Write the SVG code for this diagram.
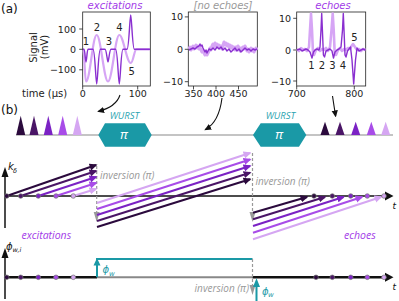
<svg xmlns="http://www.w3.org/2000/svg" width="399" height="301" viewBox="0 0 399 301">
<style>
.tick{font-family:"DejaVu Sans",sans-serif;font-size:9.5px;fill:#222}
.lab{font-family:"DejaVu Sans",sans-serif;font-size:10px;fill:#222}
.num{font-family:"DejaVu Sans",sans-serif;font-size:10px;fill:#222;text-anchor:middle}
.ttl{font-family:"DejaVu Sans",sans-serif;font-size:10px;font-style:italic;text-anchor:middle}
.pl{font-family:"DejaVu Sans",sans-serif;font-size:12px;fill:#111}
.frame{fill:none;stroke:#222;stroke-width:0.8}
.tk{stroke:#222;stroke-width:0.8}
.it{font-family:"Open Sans",sans-serif;font-style:italic}
.math{font-family:"DejaVu Sans",sans-serif;font-style:italic}
.pur{fill:#a23ae8}
.teal{fill:#1a99a6}
.light{fill:none;stroke:#d6a5f5;stroke-width:2.2;stroke-linejoin:round}
.dark{fill:none;stroke:#8a2fd0;stroke-width:1.4;stroke-linejoin:round}
.inv{fill:#999}
.dash{stroke:#999;stroke-width:1.2;stroke-dasharray:3,2;fill:none}
.traj{fill:none;stroke-width:2}
.dot{stroke:#777;stroke-width:0.7}
.c1{stroke:#2b0a3d}.c2{stroke:#4a1566}.c3{stroke:#7b22c4}.c4{stroke:#a84ce8}.c5{stroke:#d5a6f2}
.f1{fill:#2b0a3d}.f2{fill:#4a1566}.f3{fill:#7b22c4}.f4{fill:#a84ce8}.f5{fill:#d5a6f2}
</style>
<defs>
<marker id="h1" viewBox="0 0 10 10" refX="8" refY="5" markerWidth="8" markerHeight="8" markerUnits="userSpaceOnUse" orient="auto"><path d="M0,0.5 L10,5 L0,9.5 z" fill="#2b0a3d"/></marker>
<marker id="h2" viewBox="0 0 10 10" refX="8" refY="5" markerWidth="8" markerHeight="8" markerUnits="userSpaceOnUse" orient="auto"><path d="M0,0.5 L10,5 L0,9.5 z" fill="#4a1566"/></marker>
<marker id="h3" viewBox="0 0 10 10" refX="8" refY="5" markerWidth="8" markerHeight="8" markerUnits="userSpaceOnUse" orient="auto"><path d="M0,0.5 L10,5 L0,9.5 z" fill="#7b22c4"/></marker>
<marker id="h4" viewBox="0 0 10 10" refX="8" refY="5" markerWidth="8" markerHeight="8" markerUnits="userSpaceOnUse" orient="auto"><path d="M0,0.5 L10,5 L0,9.5 z" fill="#a84ce8"/></marker>
<marker id="h5" viewBox="0 0 10 10" refX="8" refY="5" markerWidth="8" markerHeight="8" markerUnits="userSpaceOnUse" orient="auto"><path d="M0,0.5 L10,5 L0,9.5 z" fill="#d5a6f2"/></marker>
<marker id="hb" viewBox="0 0 10 10" refX="8" refY="5" markerWidth="7" markerHeight="7" markerUnits="userSpaceOnUse" orient="auto"><path d="M0,0.5 L10,5 L0,9.5 z" fill="#111"/></marker>
</defs>
<rect width="399" height="301" fill="#fff"/>

<text class="pl" x="1" y="12.5">(a)</text>
<text class="pl" x="1" y="114">(b)</text>

<!-- Plot 1: excitations -->
<g id="plot-excitations">
<text class="ttl pur" x="115" y="9">excitations</text>
<rect class="frame" x="82.7" y="12" width="67.6" height="74"/>
<path class="tk" d="M82.7,29 h-3.5 M82.7,49.3 h-3.5 M82.7,69.8 h-3.5 M82.7,86 v3.5 M137.7,86 v3.5"/>
<text class="tick" x="76" y="32.5" text-anchor="end">100</text>
<text class="tick" x="76" y="52.8" text-anchor="end">0</text>
<text class="tick" x="76" y="73.3" text-anchor="end">−100</text>
<text class="tick" x="82.7" y="97" text-anchor="middle">0</text>
<text class="tick" x="137.7" y="97" text-anchor="middle">100</text>
<text class="lab" x="22" y="96.5">time (μs)</text>
<text class="lab" transform="translate(37,47.5) rotate(-90)" text-anchor="middle">Signal</text>
<text class="lab" transform="translate(48,47) rotate(-90)" text-anchor="middle">(mV)</text>
<path class="light" d="M83,49.3 C84.5,49.3 84.8,81.5 86,81.5 C90,81.5 92.7,35 96.7,35 C100.7,35 104,81.5 108,81.5 C112,81.5 115.3,35 119.3,35 C123.3,35 126.7,63 130.7,63 C133.5,63 134,49.3 136.5,49.3 L150,49.3"/>
<path class="dark" d="M83,49.3 L84,49.3 C85,49.3 85.3,62 86,62 C86.7,62 87,49.3 88,49.3 L93,49.3 C95,49.3 95.8,84 96.7,84 C97.6,84 98.4,49.3 100.4,49.3 L105,49.3 C106.5,49.3 107.3,62 108,62 C108.7,62 109.5,49.3 111,49.3 L115.6,49.3 C117.6,49.3 118.4,84 119.3,84 C120.2,84 121,49.3 123,49.3 L127,49.3 C129,49.3 129.8,15 130.7,15 C131.6,15 132.4,49.3 134.4,49.3 L150,49.3"/>
<text class="num" x="86" y="45">1</text>
<text class="num" x="97" y="31">2</text>
<text class="num" x="109" y="45">3</text>
<text class="num" x="119.5" y="31">4</text>
<text class="num" x="131.7" y="75">5</text>
</g>

<!-- Plot 2: no echoes -->
<g id="plot-no-echoes">
<text class="ttl" x="223" y="9" fill="#999">[no echoes]</text>
<rect class="frame" x="188.3" y="12" width="69" height="74"/>
<path class="tk" d="M188.3,16.9 h-3.5 M188.3,49.3 h-3.5 M188.3,81.7 h-3.5 M193.5,86 v3.5 M216,86 v3.5 M238.5,86 v3.5"/>
<text class="tick" x="183" y="20.4" text-anchor="end">10</text>
<text class="tick" x="183" y="52.8" text-anchor="end">0</text>
<text class="tick" x="183" y="85.2" text-anchor="end">−10</text>
<text class="tick" x="193.5" y="97" text-anchor="middle">350</text>
<text class="tick" x="216" y="97" text-anchor="middle">400</text>
<text class="tick" x="238.5" y="97" text-anchor="middle">450</text>
<polyline fill="none" stroke="#d6a5f5" stroke-width="3" stroke-linejoin="round" points="189,49 190,47 191,50 192,48 193,46 194,49 195,47 196,45 197,48 198,46 199,49 200,47 201,50 202,52 203,50 204,53 205,55 206,52 207,55 208,53 209,51 210,48 211,50 212,46 213,44 214,47 215,43 216,46 217,44 218,47 219,45 220,48 221,46 222,49 223,45 224,42 225,45 226,43 227,46 228,44 229,47 230,45 231,48 232,46 233,49 234,47 235,50 236,47 237,49 238,46 239,48 240,51 241,48 242,50 243,47 244,49 245,46 246,48 247,51 248,49 249,52 250,50 251,48 252,51 253,49 254,52 255,50 256,48 257,50"/>
<polyline class="dark" points="189,50 191,49 193,48 195,49 197,47 199,46 200,44 201,46 202,45 203,48 204,50 205,52 206,50 207,53 208,51 209,49 211,50 213,48 215,50 217,47 219,49 221,47 223,50 225,48 227,51 229,49 231,52 233,50 235,48 237,51 239,49 241,52 243,50 245,48 247,50 249,49 251,51 253,49 255,50 257,49"/>
</g>

<!-- Plot 3: echoes -->
<g id="plot-echoes">
<text class="ttl pur" x="333" y="9">echoes</text>
<rect class="frame" x="296.7" y="12" width="69" height="74"/>
<path class="tk" d="M296.7,18.3 h-3.5 M296.7,50 h-3.5 M296.7,81 h-3.5 M296.7,86 v3.5 M354.3,86 v3.5"/>
<text class="tick" x="291" y="21.8" text-anchor="end">10</text>
<text class="tick" x="291" y="53.5" text-anchor="end">0</text>
<text class="tick" x="291" y="84.5" text-anchor="end">−10</text>
<text class="tick" x="296.7" y="97" text-anchor="middle">700</text>
<text class="tick" x="354.3" y="97" text-anchor="middle">800</text>
<polyline fill="none" stroke="#d6a5f5" stroke-width="2.6" stroke-linejoin="round" points="297,49 299,51 301,48 303,50 305,49 307,51 309,47 310,30 311,13.5 312,30 313,53 314,55 316,50 318,48 320,51 322,49 324,50 326,48 328,51 330,47 331.5,30 332.7,13.5 333.7,30 334.7,53 336,55 338,50 340,48 342,51 344,49 346,50 348,48 350,49 351.5,46 353,44 355,47 357,50 359,49 361,51 363,49 365.5,50"/>
<polyline class="dark" points="297,50 300,49 302,51 304,50 306,49 308,50 310,52 312,58 313.5,52 315,50 317,49 319,50 320,47 321,30 321.7,13.5 322.4,30 323.4,55 324.5,57 326,51 328,50 330,49 332,51 333.5,58 335,52 337,50 339,49 341,47 342.5,30 343.3,13.5 344,30 345,55 346,57 347.5,51 349,49 350.5,47 352,60 353.7,84 355.5,60 357,48 359,51 361,50 363,49 365.5,50"/>
<text class="num" x="311.5" y="68.5">1</text>
<text class="num" x="322" y="68.5">2</text>
<text class="num" x="332.5" y="68.5">3</text>
<text class="num" x="343" y="68.5">4</text>
<text class="num" x="354.5" y="41">5</text>
</g>

<!-- Panel b timeline -->
<g id="timeline">
<line x1="16" y1="135" x2="393" y2="135" stroke="#b0b0b0" stroke-width="1.5"/>
</g>
<g id="pulses-excitation">
<path class="f1" d="M16.2,135 L20.7,115.7 L25.2,135 z"/>
<path class="f2" d="M29.5,135 L34,115.7 L38.5,135 z"/>
<path class="f3" d="M43.8,135 L48.3,115.7 L52.8,135 z"/>
<path class="f4" d="M58.2,135 L62.7,115.7 L67.2,135 z"/>
<path class="f5" d="M72.8,135 L77.3,115.7 L81.8,135 z"/>
</g>
<g id="wurst-1">
<polygon class="teal" points="98.3,135 105,123.3 145,123.3 151.7,135 145,146.7 105,146.7"/>
<text class="it" x="124.5" y="118.5" text-anchor="middle" font-size="9.5" fill="#2aa3b0">WURST</text>
<text class="it" x="124" y="139" text-anchor="middle" font-size="13" fill="#fff">π</text>
</g>
<g id="wurst-2">
<polygon class="teal" points="253,135 260.7,123.3 299,123.3 306.3,135 299,146.7 260.7,146.7"/>
<text class="it" x="280.5" y="119" text-anchor="middle" font-size="9.5" fill="#2aa3b0">WURST</text>
<text class="it" x="279.2" y="139" text-anchor="middle" font-size="13" fill="#fff">π</text>
</g>
<g id="pulses-echo">
<path class="f1" d="M320.5,135 L325,121.7 L329.5,135 z"/>
<path class="f2" d="M335.5,135 L340,121.7 L344.5,135 z"/>
<path class="f3" d="M351.2,135 L355.7,121.7 L360.2,135 z"/>
<path class="f4" d="M366.8,135 L371.3,121.7 L375.8,135 z"/>
<path class="f5" d="M381.2,135 L385.7,121.7 L390.2,135 z"/>
</g>

<!-- k_delta axes -->
<g id="k-axes">
<line x1="5" y1="228" x2="5" y2="175" stroke="#111" stroke-width="1.5"/>
<polygon points="1.5,177 5,167 8.5,177" fill="#111"/>
<line x1="5" y1="196" x2="386" y2="196" stroke="#111" stroke-width="1.5"/>
<polygon points="385,191.5 393.5,196 385,200.5" fill="#111"/>
<text class="math" x="8" y="170" font-size="10" fill="#111">k</text>
<text class="math" x="13" y="173" font-size="6.5" fill="#111">δ</text>
<text class="math" x="392.5" y="209" font-size="9" fill="#111">t</text>
<text class="it inv" x="100" y="179" font-size="10">inversion (π)</text>
<text class="it inv" x="255.5" y="185" font-size="10">inversion (π)</text>
</g>

<!-- phi axes -->
<g id="phi-axes">
<line x1="5" y1="299" x2="5" y2="257" stroke="#111" stroke-width="1.5"/>
<polygon points="1.5,258 5,248 8.5,258" fill="#111"/>
<line x1="5" y1="277.3" x2="97" y2="277.3" stroke="#111" stroke-width="2.5"/>
<line x1="97" y1="277.3" x2="252.5" y2="277.3" stroke="#888" stroke-width="2"/>
<line x1="252.5" y1="277.3" x2="386" y2="277.3" stroke="#111" stroke-width="2.5"/>
<polygon points="385,272.8 393.5,277.3 385,281.8" fill="#111"/>
<text class="math" x="6" y="250" font-size="10" fill="#111">ϕ</text>
<text class="math" x="12.5" y="252" font-size="6.5" fill="#111">w,i</text>
<text class="math" x="392.5" y="290" font-size="9" fill="#111">t</text>
<text class="it pur" x="21.5" y="239" font-size="10.5">excitations</text>
<text class="it pur" x="344" y="239" font-size="10.5">echoes</text>
<text class="it inv" x="249" y="292" font-size="10" text-anchor="end">inversion (π)</text>
<text class="math teal" x="102.5" y="273" font-size="10">ϕ</text>
<text class="math teal" x="109" y="275.5" font-size="7">w</text>
<text class="math teal" x="262" y="294.5" font-size="10">ϕ</text>
<text class="math teal" x="268" y="297" font-size="7">w</text>
</g>

<!-- connectors -->
<g id="connectors">
<path d="M120,95 Q116,107 98.5,111.3" fill="none" stroke="#111" stroke-width="1.1" marker-end="url(#hb)"/>
<path d="M222,98 Q219,122 205.5,129.5" fill="none" stroke="#111" stroke-width="1.1" marker-end="url(#hb)"/>
<path d="M332.5,96 Q334,106 335.6,116" fill="none" stroke="#111" stroke-width="1.1" marker-end="url(#hb)"/>

<!-- inversions in k panel -->
<line class="dash" x1="96.7" y1="166" x2="96.7" y2="213"/>
<polygon class="inv" points="93.7,212 99.7,212 96.7,222"/>
<line class="dash" x1="252.5" y1="153" x2="252.5" y2="213"/>
<polygon class="inv" points="249.5,212 255.5,212 252.5,222"/>

<!-- segment 1 -->
<path class="traj c5" d="M73.3,196 L96,189" marker-end="url(#h5)"/>
<path class="traj c4" d="M56,196 L96,183" marker-end="url(#h4)"/>
<path class="traj c3" d="M38.3,196 L96,177" marker-end="url(#h3)"/>
<path class="traj c2" d="M20.7,196 L96,171" marker-end="url(#h2)"/>
<path class="traj c1" d="M6.7,196 L96,165" marker-end="url(#h1)"/>
<!-- segment 2 -->
<path class="traj c5" d="M97,203 L250,153" marker-end="url(#h5)"/>
<path class="traj c4" d="M97,209 L250,159.5" marker-end="url(#h4)"/>
<path class="traj c3" d="M97,215 L250,166" marker-end="url(#h3)"/>
<path class="traj c2" d="M97,221 L250,172.7" marker-end="url(#h2)"/>
<path class="traj c1" d="M97,227 L250,179.3" marker-end="url(#h1)"/>
<!-- segment 3 -->
<path class="traj c5" d="M253,239.3 L381,197" marker-end="url(#h5)"/>
<path class="traj c4" d="M253,232.7 L362,197" marker-end="url(#h4)"/>
<path class="traj c3" d="M253,226 L343.5,197" marker-end="url(#h3)"/>
<path class="traj c2" d="M253,219.3 L325,197" marker-end="url(#h2)"/>
<path class="traj c1" d="M253,212.7 L307,197" marker-end="url(#h1)"/>

<!-- phase panel -->
<line x1="97" y1="277.3" x2="97" y2="265" stroke="#1a99a6" stroke-width="2"/>
<polygon class="teal" points="93.5,265.5 97,258 100.5,265.5"/>
<line x1="96" y1="259" x2="252.5" y2="259" stroke="#1a99a6" stroke-width="2"/>
<line class="dash" x1="252.5" y1="259" x2="252.5" y2="286"/>
<polygon class="inv" points="249.5,285 255.5,285 252.5,295"/>
<line x1="256.5" y1="301" x2="256.5" y2="286" stroke="#1a99a6" stroke-width="2"/>
<polygon class="teal" points="253,287 256.5,278.3 260,287"/>
</g>

<!-- dots -->
<g id="dots">
<circle class="dot f1" cx="6.7" cy="196" r="2.3"/>
<circle class="dot f2" cx="20.7" cy="196" r="2.3"/>
<circle class="dot f3" cx="38.3" cy="196" r="2.3"/>
<circle class="dot f4" cx="56" cy="196" r="2.3"/>
<circle class="dot f5" cx="73.3" cy="196" r="2.3"/>
<circle class="dot f1" cx="314" cy="196" r="2.3"/>
<circle class="dot f2" cx="332.3" cy="196" r="2.3"/>
<circle class="dot f3" cx="350.7" cy="196" r="2.3"/>
<circle class="dot f4" cx="367.3" cy="196" r="2.3"/>
<circle class="dot f5" cx="384" cy="196" r="2.3"/>
<circle class="dot f1" cx="6.7" cy="277.3" r="2.3"/>
<circle class="dot f2" cx="20.7" cy="277.3" r="2.3"/>
<circle class="dot f3" cx="38.3" cy="277.3" r="2.3"/>
<circle class="dot f4" cx="56" cy="277.3" r="2.3"/>
<circle class="dot f5" cx="73.3" cy="277.3" r="2.3"/>
<circle class="dot f1" cx="316" cy="277.3" r="2.3"/>
<circle class="dot f2" cx="332.3" cy="277.3" r="2.3"/>
<circle class="dot f3" cx="350.7" cy="277.3" r="2.3"/>
<circle class="dot f4" cx="367.3" cy="277.3" r="2.3"/>
<circle class="dot f5" cx="384" cy="277.3" r="2.3"/>
</g>
</svg>
